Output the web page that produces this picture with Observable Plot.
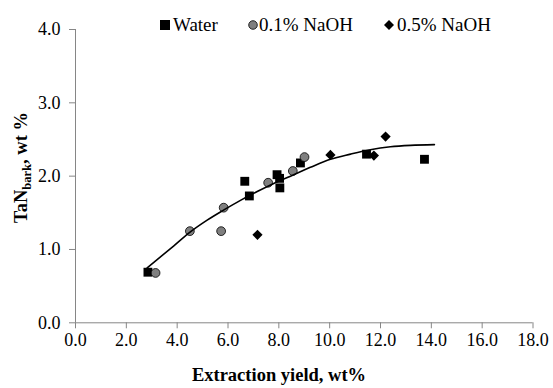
<!DOCTYPE html>
<html><head><meta charset="utf-8">
<script src="https://cdn.jsdelivr.net/npm/d3@7"></script>
<script src="https://cdn.jsdelivr.net/npm/@observablehq/plot@0.6"></script>
<style>
body{margin:0;background:#fff;}
#wrap{position:relative;width:553px;height:388px;font-family:"Liberation Serif","Times New Roman",serif;color:#000;}
.leg{position:absolute;top:15px;font-size:19px;line-height:1;display:flex;align-items:center;white-space:nowrap;font-family:"Liberation Serif","Times New Roman",serif;}
.leg svg{display:block;}
</style></head><body><div id="wrap"></div>
<script>
// Series data
const waterX = [2.85, 6.66, 6.84, 7.93, 8.03, 8.04, 8.85, 11.45, 13.73];
const waterY = [0.69, 1.93, 1.73, 2.02, 1.97, 1.84, 2.18, 2.30, 2.23];
const naoh01X = [3.15, 4.50, 5.73, 5.83, 7.58, 8.55, 9.01];
const naoh01Y = [0.68, 1.25, 1.25, 1.57, 1.91, 2.07, 2.26];
const naoh05X = [7.16, 10.03, 11.74, 12.20];
const naoh05Y = [1.20, 2.29, 2.28, 2.54];
// Trendline
const trendX = [2.82, 3.87, 4.52, 5.18, 5.84, 6.49, 7.15, 7.80, 8.46, 9.24, 10.03, 10.82, 11.60, 12.39, 13.18, 14.12];
const trendY = [0.75, 1.05, 1.24, 1.40, 1.54, 1.67, 1.79, 1.90, 2.00, 2.12, 2.23, 2.30, 2.36, 2.40, 2.42, 2.43];
// Ticks
const xTicks = [0, 2, 4, 6, 8, 10, 12, 14, 16, 18];
const yTicks = [0, 1, 2, 3, 4];
const seriesNames = ["Water", "0.1% NaOH", "0.5% NaOH"];

const pts = (xs, ys) => xs.map((x, i) => ({x, y: ys[i]}));
const axisGray = "#868686";
const serif = "Liberation Serif, Times New Roman, serif";

const chart = Plot.plot({
  width: 553, height: 388,
  marginLeft: 75, marginRight: 20.5, marginTop: 29, marginBottom: 65.7,
  style: {fontFamily: serif, fontSize: "18px", background: "#fff", color: "#000"},
  x: {domain: [0, 18]},
  y: {domain: [0, 4]},
  marks: [
    Plot.axisX({ticks: xTicks, tickFormat: d => d.toFixed(1), tickSize: 6, tickPadding: 4, stroke: axisGray, fill: "#000", label: null, fontFamily: serif, fontSize: 18}),
    Plot.axisY({ticks: yTicks, tickFormat: d => d.toFixed(1), tickSize: 6, tickPadding: 9, stroke: axisGray, fill: "#000", label: null, fontFamily: serif, fontSize: 18}),
    Plot.ruleY([0], {stroke: axisGray, strokeWidth: 1}),
    Plot.ruleX([0], {stroke: axisGray, strokeWidth: 1}),
    Plot.dot(pts(waterX, waterY), {x: "x", y: "y", symbol: "square", r: 5, fill: "#000", stroke: "none"}),
    Plot.dot(pts(naoh01X, naoh01Y), {x: "x", y: "y", symbol: "circle", r: 4.4, fill: "#7f7f7f", stroke: "#000", strokeWidth: 0.8}),
    Plot.dot(pts(naoh05X, naoh05Y), {x: "x", y: "y", symbol: "diamond2", r: 4.6, fill: "#000", stroke: "none"}),
    Plot.line(pts(trendX, trendY), {x: "x", y: "y", curve: "monotone-x", stroke: "#000", strokeWidth: 1.6})
  ]
});

const svg = d3.select(chart);
// Y axis label with subscript
const yl = svg.append("text")
  .attr("transform", "translate(27,167.5) rotate(-90)")
  .attr("text-anchor", "middle")
  .attr("font-family", serif)
  .attr("font-weight", "bold")
  .attr("font-size", 18.5)
  .attr("fill", "#000");
yl.append("tspan").text("TaN");
yl.append("tspan").attr("font-size", 12.5).attr("dy", 4).text("bark");
yl.append("tspan").attr("dy", -4).text(", wt %");
// X axis label
svg.append("text")
  .attr("x", 279).attr("y", 381)
  .attr("text-anchor", "middle")
  .attr("font-family", serif)
  .attr("font-weight", "bold")
  .attr("font-size", 18.5)
  .attr("fill", "#000")
  .text("Extraction yield, wt%");

const wrap = document.getElementById("wrap");
wrap.appendChild(chart);

// Legend
const legendSymbols = [
  '<svg width="10" height="10"><rect x="0" y="0" width="10" height="10" fill="#000"/></svg>',
  '<svg width="10" height="10"><circle cx="5" cy="5" r="4.3" fill="#7f7f7f" stroke="#000" stroke-width="0.8"/></svg>',
  '<svg width="10" height="10"><path d="M5,0L10,5L5,10L0,5Z" fill="#000"/></svg>'
];
const legendLeft = [160, 248, 384];
const legendGap = [3, 1, 3];
seriesNames.forEach((name, i) => {
  const d = document.createElement("div");
  d.className = "leg";
  d.style.left = legendLeft[i] + "px";
  d.innerHTML = legendSymbols[i] + '<span style="margin-left:' + legendGap[i] + 'px">' + name + '</span>';
  wrap.appendChild(d);
});
</script>
</body></html>
